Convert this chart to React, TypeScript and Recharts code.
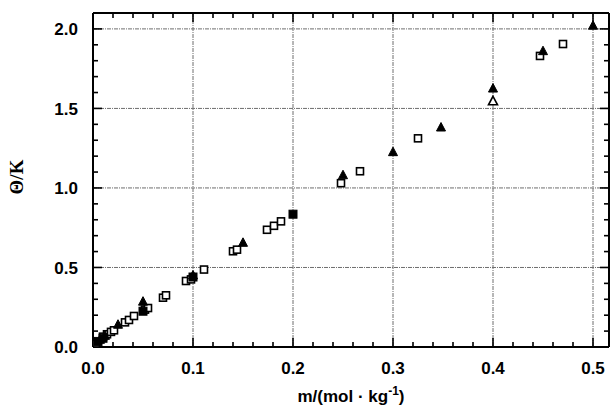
import React from "react";
import { ScatterChart, Scatter, XAxis, YAxis, CartesianGrid } from "recharts";

// m / (mol·kg-1) and Θ / K values
const openSquares = [
  { m: 0.003, t: 0.02 }, { m: 0.010, t: 0.065 }, { m: 0.014, t: 0.08 },
  { m: 0.018, t: 0.095 }, { m: 0.021, t: 0.105 }, { m: 0.032, t: 0.155 },
  { m: 0.036, t: 0.17 }, { m: 0.041, t: 0.195 }, { m: 0.052, t: 0.235 },
  { m: 0.055, t: 0.245 }, { m: 0.070, t: 0.31 }, { m: 0.073, t: 0.325 },
  { m: 0.093, t: 0.415 }, { m: 0.098, t: 0.425 }, { m: 0.111, t: 0.487 },
  { m: 0.140, t: 0.602 }, { m: 0.144, t: 0.612 }, { m: 0.174, t: 0.737 },
  { m: 0.181, t: 0.762 }, { m: 0.188, t: 0.79 }, { m: 0.248, t: 1.03 },
  { m: 0.267, t: 1.105 }, { m: 0.325, t: 1.312 }, { m: 0.447, t: 1.83 },
  { m: 0.470, t: 1.905 },
];
const filledSquares = [
  { m: 0.005, t: 0.035 }, { m: 0.010, t: 0.055 }, { m: 0.050, t: 0.225 },
  { m: 0.100, t: 0.44 }, { m: 0.200, t: 0.835 },
];
const filledTriangles = [
  { m: 0.007, t: 0.045 }, { m: 0.012, t: 0.07 }, { m: 0.025, t: 0.14 },
  { m: 0.050, t: 0.285 }, { m: 0.100, t: 0.45 }, { m: 0.150, t: 0.655 },
  { m: 0.250, t: 1.08 }, { m: 0.300, t: 1.225 }, { m: 0.348, t: 1.38 },
  { m: 0.400, t: 1.625 }, { m: 0.450, t: 1.86 }, { m: 0.500, t: 2.02 },
];
const openTriangles = [{ m: 0.400, t: 1.545 }];

const xTicks = [0, 0.02, 0.04, 0.06, 0.08, 0.1, 0.12, 0.14, 0.16, 0.18, 0.2, 0.22, 0.24, 0.26, 0.28, 0.3, 0.32, 0.34, 0.36, 0.38, 0.4, 0.42, 0.44, 0.46, 0.48, 0.5];
const xMajor = [0, 0.1, 0.2, 0.3, 0.4, 0.5];
const yTicks = [0, 0.1, 0.2, 0.3, 0.4, 0.5, 0.6, 0.7, 0.8, 0.9, 1.0, 1.1, 1.2, 1.3, 1.4, 1.5, 1.6, 1.7, 1.8, 1.9, 2.0];
const yMajor = [0, 0.5, 1.0, 1.5, 2.0];
const xGrid = [0.1, 0.2, 0.3, 0.4, 0.5];
const yGrid = [0.5, 1.0, 1.5, 2.0];

const isIn = (arr: number[], v: number) => arr.some((a) => Math.abs(a - v) < 1e-6);
const FONT = "'Liberation Sans', Arial, sans-serif";

const BottomTick = (p: any) => {
  const { x, y, payload } = p;
  const major = isIn(xMajor, payload.value);
  return (
    <g>
      <line x1={x} x2={x} y1={y} y2={y - (major ? 9 : 5)} stroke="#000" strokeWidth={1.6} />
      {major && (
        <text x={x} y={y + 27} textAnchor="middle" fontFamily={FONT} fontWeight="bold" fontSize={17} fill="#000">
          {payload.value.toFixed(1)}
        </text>
      )}
    </g>
  );
};
const TopTick = (p: any) => {
  const { x, y, payload } = p;
  const major = isIn(xMajor, payload.value);
  return <line x1={x} x2={x} y1={y} y2={y + (major ? 9 : 5)} stroke="#000" strokeWidth={1.6} />;
};
const LeftTick = (p: any) => {
  const { x, y, payload } = p;
  const major = isIn(yMajor, payload.value);
  return (
    <g>
      <line x1={x} x2={x + (major ? 9 : 5)} y1={y} y2={y} stroke="#000" strokeWidth={1.6} />
      {major && (
        <text x={x - 15} y={y} dy="0.36em" textAnchor="end" fontFamily={FONT} fontWeight="bold" fontSize={17} fill="#000">
          {payload.value.toFixed(1)}
        </text>
      )}
    </g>
  );
};
const RightTick = (p: any) => {
  const { x, y, payload } = p;
  const major = isIn(yMajor, payload.value);
  return <line x1={x} x2={x - (major ? 9 : 5)} y1={y} y2={y} stroke="#000" strokeWidth={1.6} />;
};

const XLabel = (p: any) => {
  const vb = p.viewBox || {};
  const cx = vb.x + vb.width / 2;
  return (
    <text x={cx} y={vb.y + vb.height - 7} textAnchor="middle" fontFamily={FONT} fontWeight="bold" fontSize={17} fill="#000">
      m/(mol · kg
      <tspan fontSize={12} dy={-7}>-1</tspan>
      <tspan dy={7}>)</tspan>
    </text>
  );
};
const YLabel = (p: any) => {
  const vb = p.viewBox || {};
  const cx = 16;
  const cy = vb.y + vb.height / 2 - 3;
  return (
    <text x={cx} y={cy} dy="0.35em" textAnchor="middle" transform={`rotate(-90 ${cx} ${cy})`} fontFamily="'Liberation Serif', 'Times New Roman', serif" fontWeight="bold" fontSize={19} fill="#000">
      Θ/K
    </text>
  );
};

const OpenSquare = (p: any) => (
  <rect x={p.cx - 3.5} y={p.cy - 3.5} width={7} height={7} fill="#fff" stroke="#000" strokeWidth={1.6} />
);
const FilledSquare = (p: any) => (
  <rect x={p.cx - 4} y={p.cy - 4} width={8} height={8} fill="#000" stroke="#000" strokeWidth={1} />
);
const FilledTriangle = (p: any) => (
  <path d={`M${p.cx},${p.cy - 5} L${p.cx + 4.5},${p.cy + 3.5} L${p.cx - 4.5},${p.cy + 3.5} Z`} fill="#000" stroke="#000" strokeWidth={1} />
);
const OpenTriangle = (p: any) => (
  <path d={`M${p.cx},${p.cy - 5} L${p.cx + 4.5},${p.cy + 3.5} L${p.cx - 4.5},${p.cy + 3.5} Z`} fill="#fff" stroke="#000" strokeWidth={1.6} />
);

export default function App() {
  return (
    <div style={{ width: 610, height: 409 }}>
      <style>{`body{margin:0}`}</style>
      <ScatterChart width={610} height={409} margin={{ top: 0, right: 0, bottom: 0, left: 0 }}>
        <CartesianGrid
          horizontal
          vertical
          horizontalValues={yGrid}
          verticalValues={xGrid}
          stroke="#6e6e6e"
          strokeDasharray="4 1 1 1"
          strokeWidth={1}
        />
        <XAxis
          xAxisId={0}
          dataKey="m"
          type="number"
          domain={[0, 0.516]}
          allowDataOverflow
          ticks={xTicks}
          interval={0}
          tickSize={0}
          tickMargin={0}
          tickLine={false}
          tick={<BottomTick />}
          axisLine={{ stroke: "#000", strokeWidth: 2 }}
          height={62}
          label={<XLabel />}
        />
        <XAxis
          xAxisId="top"
          orientation="top"
          dataKey="m"
          type="number"
          domain={[0, 0.516]}
          allowDataOverflow
          ticks={xTicks}
          interval={0}
          tickSize={0}
          tickMargin={0}
          tickLine={false}
          tick={<TopTick />}
          axisLine={{ stroke: "#000", strokeWidth: 2 }}
          height={13}
        />
        <YAxis
          yAxisId={0}
          dataKey="t"
          type="number"
          domain={[0, 2.1]}
          allowDataOverflow
          ticks={yTicks}
          interval={0}
          tickSize={0}
          tickMargin={0}
          tickLine={false}
          tick={<LeftTick />}
          axisLine={{ stroke: "#000", strokeWidth: 2 }}
          width={93}
          label={<YLabel />}
        />
        <YAxis
          yAxisId="right"
          orientation="right"
          dataKey="t"
          type="number"
          domain={[0, 2.1]}
          allowDataOverflow
          ticks={yTicks}
          interval={0}
          tickSize={0}
          tickMargin={0}
          tickLine={false}
          tick={<RightTick />}
          axisLine={{ stroke: "#000", strokeWidth: 2 }}
          width={1}
        />
        <Scatter data={openSquares} shape={<OpenSquare />} isAnimationActive={false} />
        <Scatter data={filledSquares} shape={<FilledSquare />} isAnimationActive={false} />
        <Scatter data={openTriangles} shape={<OpenTriangle />} isAnimationActive={false} />
        <Scatter data={filledTriangles} shape={<FilledTriangle />} isAnimationActive={false} />
      </ScatterChart>
    </div>
  );
}
